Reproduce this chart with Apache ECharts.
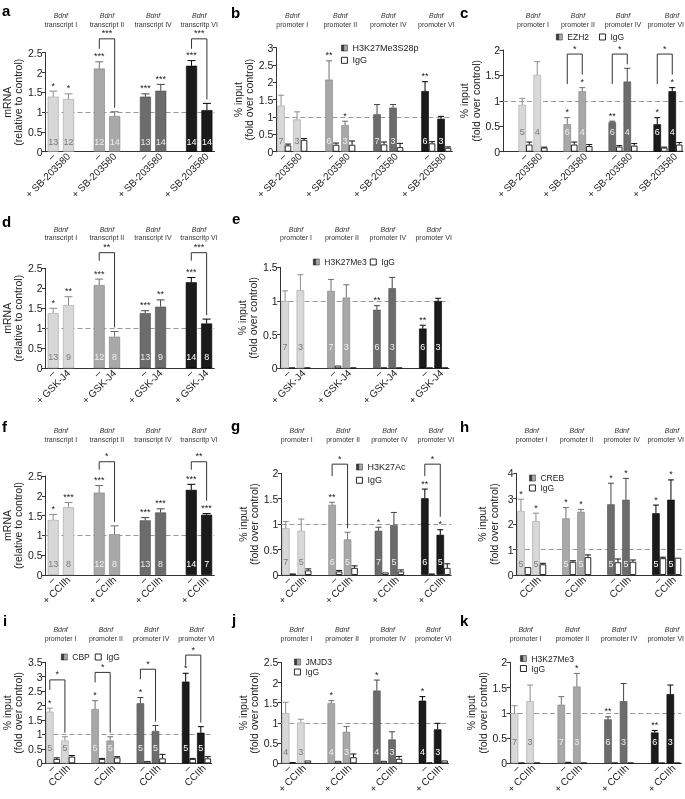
<!DOCTYPE html>
<html><head><meta charset="utf-8">
<script src="https://cdn.jsdelivr.net/npm/echarts@6/dist/echarts.min.js"></script>
<style>html,body{margin:0;padding:0;background:#fff}#c{width:685px;height:799px;will-change:transform}</style>
</head><body><div id="c"></div>
<script>
const FONT = '"Liberation Sans", Arial, Helvetica, sans-serif';

// ---------------- DATA ----------------
const geneLabel = 'Bdnf';
const transcriptGroups = ['transcript I', 'transcript II', 'transcript IV', 'transcritp VI'];
const promoterGroups = ['promoter I', 'promoter II', 'promoter IV', 'promoter VI'];
const yNameMRNA = 'mRNA\n(relative to control)';
const yNameInput = '% input\n(fold over control)';

const sbLabels = ['–', '+ SB-203580'];
const gskLabels = ['–', '+ GSK-J4'];
const cciLabels = ['–', '+ CCIIh'];
const cciPlainLabels = ['–', 'CCIIh'];

// a
const aVal = [1.39, 1.33, 2.10, 0.90, 1.39, 1.54, 2.17, 1.05];
const aErr = [0.14, 0.13, 0.17, 0.11, 0.07, 0.16, 0.13, 0.17];
const aN = [13, 12, 12, 14, 13, 14, 14, 14];
const aStars = ['*', '*', '***', '', '***', '***', '***', ''];
const aBrackets = [[1, '***'], [3, '***']];
// b
const bVal = [1.33, 0.93, 2.08, 0.77, 1.08, 1.27, 1.75, 0.95];
const bErr = [0.30, 0.22, 0.54, 0.11, 0.28, 0.09, 0.27, 0.07];
const bIgg = [0.18, 0.34, 0.20, 0.20, 0.21, 0.13, 0.24, 0.11];
const bIggErr = [0.04, 0.04, 0.05, 0.11, 0.07, 0.11, 0.05, 0.03];
const bN = [7, 3, 6, 3, 7, 3, 6, 3];
const bStars = ['', '', '**', '*', '', '', '**', ''];
// c
const cVal = [0.92, 1.51, 0.54, 1.19, 0.58, 1.38, 0.54, 1.19];
const cErr = [0.13, 0.26, 0.13, 0.07, 0.02, 0.26, 0.13, 0.07];
const cIgg = [0.14, 0.08, 0.14, 0.11, 0.10, 0.12, 0.08, 0.14];
const cIggErr = [0.05, 0.01, 0.05, 0.03, 0.02, 0.04, 0.01, 0.04];
const cN = [5, 4, 6, 4, 6, 4, 6, 4];
const cStars = ['', '', '*', '*', '**', '', '*', '*'];
const cBrackets = [[1, '*'], [2, '*'], [3, '*']];
// d
const dVal = [1.38, 1.58, 2.08, 0.79, 1.38, 1.54, 2.15, 1.12];
const dErr = [0.12, 0.21, 0.15, 0.13, 0.06, 0.17, 0.12, 0.11];
const dN = [13, 9, 12, 8, 13, 9, 14, 8];
const dStars = ['*', '**', '***', '', '***', '**', '***', ''];
const dBrackets = [[1, '**'], [3, '***']];
// e
const eVal = [1.00, 1.16, 1.15, 1.05, 0.87, 1.19, 0.59, 1.00];
const eErr = [0.15, 0.23, 0.17, 0.19, 0.06, 0.16, 0.05, 0.04];
const eIgg = [0.01, 0.01, 0.04, 0.01, 0.01, 0.01, 0.01, 0.01];
const eIggErr = [0, 0, 0, 0, 0, 0, 0, 0];
const eN = [7, 3, 7, 3, 6, 3, 6, 3];
const eStars = ['', '', '', '', '**', '', '**', ''];
// f
const fVal = [1.39, 1.71, 2.08, 1.03, 1.38, 1.58, 2.15, 1.52];
const fErr = [0.14, 0.12, 0.18, 0.21, 0.07, 0.09, 0.14, 0.03];
const fN = [13, 8, 12, 8, 13, 8, 14, 7];
const fStars = ['*', '***', '***', '', '***', '***', '***', '***'];
const fBrackets = [[1, '*'], [3, '**']];
// g
const gVal = [0.92, 0.87, 1.38, 0.70, 0.87, 0.98, 1.51, 0.79];
const gErr = [0.13, 0.23, 0.05, 0.14, 0.07, 0.25, 0.18, 0.10];
const gIgg = [0.03, 0.09, 0.07, 0.14, 0.05, 0.07, 0.03, 0.14];
const gIggErr = [0, 0.03, 0.02, 0.04, 0, 0.03, 0, 0.08];
const gN = [7, 5, 6, 5, 7, 5, 6, 5];
const gStars = ['', '', '**', '', '*', '', '**', '*'];
const gBrackets = [[1, '*'], [3, '*']];
// h
const hVal = [2.52, 2.12, 2.23, 2.49, 2.78, 2.96, 2.43, 2.96];
const hErr = [0.46, 0.31, 0.42, 0.09, 0.83, 0.84, 0.32, 0.78];
const hIgg = [0.31, 0.42, 0.52, 0.70, 0.50, 0.52, 0.66, 0.68];
const hIggErr = [0, 0.04, 0.04, 0.09, 0.13, 0.07, 0.04, 0];
const hN = [5, 5, 5, 5, 5, 5, 5, 5];
const hStars = ['*', '*', '*', '*', '*', '*', '*', '*'];
// i
const iVal = [1.79, 0.79, 1.88, 0.79, 2.08, 1.12, 2.83, 1.06];
const iErr = [0.12, 0.13, 0.29, 0.13, 0.20, 0.19, 0.29, 0.21];
const iIgg = [0.15, 0.23, 0.15, 0.20, 0.08, 0.17, 0.15, 0.17];
const iIggErr = [0.04, 0.04, 0.02, 0.03, 0, 0.14, 0.02, 0.06];
const iN = [5, 5, 5, 5, 5, 5, 5, 5];
const iStars = ['*', '', '*', '', '*', '', '*', ''];
const iBrackets = [[0, '*'], [1, '*'], [2, '*'], [3, '*']];
// j
const jVal = [1.24, 1.01, 1.49, 0.78, 1.80, 0.59, 1.55, 0.84];
const jErr = [0.27, 0.08, 0.06, 0.13, 0.26, 0.19, 0.10, 0.15];
const jIgg = [0.03, 0.07, 0.06, 0.15, 0.06, 0.11, 0.02, 0.07];
const jIggErr = [0, 0, 0, 0.08, 0, 0.06, 0, 0];
const jN = [4, 3, 4, 3, 4, 3, 4, 3];
const jStars = ['', '', '*', '', '*', '', '*', ''];
// k
const kVal = [0.99, 1.23, 1.16, 1.52, 0.87, 1.23, 0.61, 1.37];
const kErr = [0.15, 0.32, 0.16, 0.26, 0.05, 0.35, 0.04, 0.18];
const kIgg = [0.01, 0.01, 0.03, 0.01, 0.01, 0.01, 0.01, 0.01];
const kIggErr = [0, 0, 0, 0, 0, 0, 0, 0];
const kN = [7, 3, 7, 3, 6, 3, 6, 3];
const kStars = ['', '', '', '*', '**', '', '**', ''];

const panels = [
  {id: 'a', groups: transcriptGroups, xl: sbLabels, vals: aVal, errs: aErr, n: aN, stars: aStars, brackets: aBrackets, yName: yNameMRNA},
  {id: 'b', groups: promoterGroups, xl: sbLabels, vals: bVal, errs: bErr, igg: bIgg, iggErr: bIggErr, n: bN, stars: bStars, brackets: [], yName: yNameInput, mark: 'H3K27Me3S28p'},
  {id: 'c', groups: promoterGroups, xl: sbLabels, vals: cVal, errs: cErr, igg: cIgg, iggErr: cIggErr, n: cN, stars: cStars, brackets: cBrackets, yName: yNameInput, mark: 'EZH2'},
  {id: 'd', groups: transcriptGroups, xl: gskLabels, vals: dVal, errs: dErr, n: dN, stars: dStars, brackets: dBrackets, yName: yNameMRNA},
  {id: 'e', groups: promoterGroups, xl: gskLabels, vals: eVal, errs: eErr, igg: eIgg, iggErr: eIggErr, n: eN, stars: eStars, brackets: [], yName: yNameInput, mark: 'H3K27Me3'},
  {id: 'f', groups: transcriptGroups, xl: cciLabels, vals: fVal, errs: fErr, n: fN, stars: fStars, brackets: fBrackets, yName: yNameMRNA},
  {id: 'g', groups: promoterGroups, xl: cciLabels, vals: gVal, errs: gErr, igg: gIgg, iggErr: gIggErr, n: gN, stars: gStars, brackets: gBrackets, yName: yNameInput, mark: 'H3K27Ac'},
  {id: 'h', groups: promoterGroups, xl: cciPlainLabels, vals: hVal, errs: hErr, igg: hIgg, iggErr: hIggErr, n: hN, stars: hStars, brackets: [], yName: yNameInput, mark: 'CREB'},
  {id: 'i', groups: promoterGroups, xl: cciPlainLabels, vals: iVal, errs: iErr, igg: iIgg, iggErr: iIggErr, n: iN, stars: iStars, brackets: iBrackets, yName: yNameInput, mark: 'CBP'},
  {id: 'j', groups: promoterGroups, xl: cciLabels, vals: jVal, errs: jErr, igg: jIgg, iggErr: jIggErr, n: jN, stars: jStars, brackets: [], yName: yNameInput, mark: 'JMJD3'},
  {id: 'k', groups: promoterGroups, xl: cciLabels, vals: kVal, errs: kErr, igg: kIgg, iggErr: kIggErr, n: kN, stars: kStars, brackets: [], yName: yNameInput, mark: 'H3K27Me3'}
];

// ---------------- LAYOUT / STYLE ----------------
const layout = {
  a: {left: 43, top: 52.7, h: 99, slot: 15.6, lead: 0, max: 2.5, step: 0.5, gap: 17, nLift: 5.5, br: {add: 1, cap: 2.85, leg: 10}, lab: [15, 24], letter: [2, 10]},
  b: {left: 276.3, top: 47.7, h: 104, slot: 16, lead: 0, max: 3, step: 0.5, gap: 20.5, nLift: 6.5, lab: [15, 24], letter: [231, 12],
      legend: {orient: 'vertical', left: 341, top: 43, itemGap: 2.3, fs: 9}},
  c: {left: 503, top: 50, h: 101.7, slot: 15, lead: 1, max: 2, step: 0.5, gap: 11, nLift: 15.5, br: {add: 1, cap: 1.92, leg: 30}, lab: [15, 24], letter: [460, 12],
      legend: {orient: 'horizontal', left: 556, top: 32, itemGap: 10, fs: 8.5}},
  d: {left: 42.7, top: 268.3, h: 100, slot: 15.6, lead: 0, max: 2.5, step: 0.5, gap: 17, nLift: 7, br: {add: 1, cap: 2.89, leg: 8}, lab: [229, 237.7], letter: [2, 221]},
  e: {left: 280.7, top: 267.3, h: 101, slot: 15.3, lead: 0, max: 1.5, step: 0.5, gap: 19, nLift: 17, lab: [229, 237.7], letter: [232, 218],
      legend: {orient: 'horizontal', left: 313, top: 257, itemGap: 3, fs: 8.5}},
  f: {left: 42.7, top: 476, h: 99, slot: 15.6, lead: 0, max: 2.5, step: 0.5, gap: 17, nLift: 7, br: {add: 1, cap: 2.86, leg: 8}, lab: [430, 439], letter: [2, 426]},
  g: {left: 281.3, top: 473.3, h: 101.7, slot: 15.45, lead: 0, max: 2, step: 0.5, gap: 19.5, nLift: 8.5, br: {add: 1, cap: 2.18, leg: 12}, lab: [430, 439], letter: [231, 425],
      legend: {orient: 'vertical', left: 356, top: 462, itemGap: 3.3, fs: 9}},
  h: {left: 516.7, top: 473.3, h: 101.7, slot: 15, lead: 0, max: 4, step: 1, gap: 17, nLift: 7, lab: [430, 439], letter: [460, 426],
      legend: {orient: 'vertical', left: 529, top: 473, itemGap: 0, fs: 8.5}},
  i: {left: 43.3, top: 662.3, h: 101, slot: 15.3, lead: 0, max: 3.5, step: 0.5, gap: 15, nLift: 10.5, br: {add: 0.98, cap: 3.75, leg: 10}, lab: [629, 638.3], letter: [3, 620],
      legend: {orient: 'horizontal', left: 61, top: 652, itemGap: 5, fs: 8.5}},
  j: {left: 281.3, top: 662.3, h: 101, slot: 15.2, lead: 0, max: 2.5, step: 0.5, gap: 21, nLift: 7, lab: [629, 638.3], letter: [232, 619],
      legend: {orient: 'vertical', left: 294, top: 657, itemGap: 0, fs: 8.5}},
  k: {left: 510, top: 662.3, h: 101, slot: 15.58, lead: 0, max: 2, step: 0.5, gap: 19.5, nLift: 17, lab: [629, 638.3], letter: [460, 620],
      legend: {orient: 'vertical', left: 520, top: 653.5, itemGap: 0, fs: 8.5}}
};

const fillColors = ['#d8d8d8', '#a8a8a8', '#6c6c6c', '#1b1b1b'];
const edgeColors = ['#a3a3a3', '#7f7f7f', '#4d4d4d', '#000000'];
const errColors = ['#8c8c8c', '#6f6f6f', '#444444', '#000000'];
const nColors = ['#7a7a7a', '#eeeeee', '#eeeeee', '#ffffff'];
const W_SINGLE = 11, W_C = 7.5, W_I = 6.5;
const AX = '#333';
const CHART_W = 685;

const option = {
  animation: false,
  textStyle: {fontFamily: FONT},
  grid: [], xAxis: [], yAxis: [], series: [], legend: []
};

const catMaps = [];

panels.forEach((p, pi) => {
  const L = layout[p.id];
  const hasIgg = !!p.igg;
  const cats = [];
  if (L.lead) cats.push('');
  for (let g = 0; g < 4; g++) { cats.push(p.xl[0], p.xl[1]); if (g < 3) cats.push(''); }
  const catOf = i => L.lead + Math.floor(i / 2) * 3 + (i % 2);
  catMaps.push(catOf);

  option.grid.push({left: L.left, top: L.top, width: L.slot * cats.length, height: L.h});
  option.xAxis.push({
    type: 'category', gridIndex: pi, data: cats, boundaryGap: true,
    axisLine: {lineStyle: {color: AX, width: 1}},
    axisTick: {alignWithLabel: true, length: 3, interval: (idx, val) => val !== '', lineStyle: {color: AX}},
    axisLabel: {interval: 0, rotate: 45, fontSize: 10, color: '#222', margin: 3, fontFamily: FONT},
    splitLine: {show: false}
  });
  option.yAxis.push({
    type: 'value', gridIndex: pi, min: 0, max: L.max, interval: L.step,
    name: p.yName, nameLocation: 'middle', nameGap: L.gap, nameRotate: 90,
    nameTextStyle: {fontSize: 10.5, lineHeight: 11.5, color: '#222', fontFamily: FONT},
    axisLine: {show: true, lineStyle: {color: AX, width: 1}},
    axisTick: {show: true, length: 3.5, lineStyle: {color: AX}},
    axisLabel: {fontSize: 10.5, color: '#222', margin: 3, fontFamily: FONT},
    splitLine: {show: false}
  });

  // colored bars
  const cData = cats.map(() => '-');
  p.vals.forEach((v, i) => {
    const g = Math.floor(i / 2);
    cData[catOf(i)] = {value: v, itemStyle: {color: fillColors[g], borderColor: edgeColors[g]},
      label: {formatter: String(p.n[i]), color: nColors[g]}};
  });
  option.series.push({
    type: 'bar', name: p.mark || ('mRNA ' + p.id), xAxisIndex: pi, yAxisIndex: pi, data: cData,
    barWidth: hasIgg ? W_C : W_SINGLE, barGap: '0%',
    itemStyle: {borderWidth: 0.6},
    label: {show: true, position: 'insideBottom', distance: L.nLift, fontSize: 9, fontFamily: FONT},
    markLine: {silent: true, z: 1, symbol: ['none', 'none'], label: {show: false},
      lineStyle: {type: [5, 3], color: '#9a9a9a', width: 1.2}, data: [{yAxis: 1}]}
  });
  if (hasIgg) {
    const iData = cats.map(() => '-');
    p.igg.forEach((v, i) => { iData[catOf(i)] = v; });
    option.series.push({
      type: 'bar', name: 'IgG', xAxisIndex: pi, yAxisIndex: pi, data: iData,
      barWidth: W_I, barGap: '0%',
      itemStyle: {color: '#ffffff', borderColor: '#111', borderWidth: 0.9}
    });
  }

  // error bars + stars
  const eData = [];
  p.vals.forEach((v, i) => eData.push([catOf(i), v, p.errs[i], 0, i]));
  if (hasIgg) p.igg.forEach((v, i) => eData.push([catOf(i), v, p.iggErr[i], 1, i]));
  option.series.push({
    type: 'custom', xAxisIndex: pi, yAxisIndex: pi, data: eData, clip: false, silent: true, z: 5,
    renderItem: (params, api) => {
      const c = api.value(0), v = api.value(1), e = api.value(2), kind = api.value(3), i = api.value(4);
      const g = Math.floor(i / 2);
      const base = api.coord([c, v]);
      const top = api.coord([c, v + e]);
      let x = base[0];
      if (hasIgg) x += (kind === 0 ? -W_I / 2 : W_C / 2);
      const col = kind === 0 ? errColors[g] : '#111';
      const cap = hasIgg ? 3 : 4;
      const ch = [];
      if (e > 0) {
        ch.push({type: 'line', shape: {x1: x, y1: base[1], x2: x, y2: top[1]}, style: {stroke: col, lineWidth: 1}});
        ch.push({type: 'line', shape: {x1: x - cap, y1: top[1], x2: x + cap, y2: top[1]}, style: {stroke: col, lineWidth: 1}});
      }
      if (kind === 0 && p.stars[i]) {
        ch.push({type: 'text', style: {text: p.stars[i], x: x, y: top[1] - 1, fill: '#222', fontSize: 9, fontFamily: FONT,
          align: 'center', verticalAlign: 'bottom', textAlign: 'center', textVerticalAlign: 'bottom'}});
      }
      return {type: 'group', children: ch};
    }
  });

  // significance brackets
  if (p.brackets.length) {
    const bData = p.brackets.map((b, bi) => {
      const i1 = b[0] * 2, i2 = b[0] * 2 + 1;
      return [catOf(i1), catOf(i2), p.vals[i1] + p.errs[i1], p.vals[i2] + p.errs[i2], bi];
    });
    option.series.push({
      type: 'custom', xAxisIndex: pi, yAxisIndex: pi, data: bData, clip: false, silent: true, z: 6,
      renderItem: (params, api) => {
        const c1 = api.value(0), c2 = api.value(1), t1 = api.value(2), t2 = api.value(3), bi = api.value(4);
        const b = p.brackets[bi];
        const i2 = b[0] * 2 + 1;
        const H = Math.min(Math.max(t1, t2) + L.br.add, L.br.cap);
        const off = hasIgg ? -W_I / 2 : 0;
        const pH1 = api.coord([c1, H]);
        const pH2 = api.coord([c2, H]);
        const x1 = pH1[0] + off, x2 = pH2[0] + off, yH = pH1[1];
        const y1 = yH + L.br.leg;
        const y2 = api.coord([c2, t2])[1] - (p.stars[i2] ? 13 : 4);
        return {type: 'group', children: [
          {type: 'polyline', shape: {points: [[x1, y1], [x1, yH], [x2, yH], [x2, y2]]}, style: {stroke: '#333', lineWidth: 1, fill: null}},
          {type: 'text', style: {text: b[1], x: (x1 + x2) / 2, y: yH - 1, fill: '#222', fontSize: 9, fontFamily: FONT,
            align: 'center', verticalAlign: 'bottom', textAlign: 'center', textVerticalAlign: 'bottom'}}
        ]};
      }
    });
  }

  // legend
  if (L.legend) {
    option.legend.push({
      orient: L.legend.orient, left: L.legend.left, top: L.legend.top, itemGap: L.legend.itemGap,
      itemWidth: 6, itemHeight: 6, icon: 'rect', selectedMode: false, padding: 0,
      textStyle: {fontSize: L.legend.fs, color: '#222', lineHeight: 10, fontFamily: FONT},
      data: [
        {name: p.mark, itemStyle: {color: new echarts.graphic.LinearGradient(0, 0, 1, 0, [
          {offset: 0, color: '#2e2e2e'}, {offset: 0.45, color: '#4a4a4a'}, {offset: 0.46, color: '#9a9a9a'}, {offset: 1, color: '#bdbdbd'}]),
          borderColor: '#333', borderWidth: 0.6}},
        {name: 'IgG', itemStyle: {color: '#ffffff', borderColor: '#111', borderWidth: 0.9}}
      ]
    });
  }
});

const chart = echarts.init(document.getElementById('c'), null, {renderer: 'svg', width: 685, height: 799});
chart.setOption(option);

// group labels and panel letters (positions from the axes)
const LAB_FS = 7;
const gfx = [];
panels.forEach((p, pi) => {
  const L = layout[p.id];
  const catOf = catMaps[pi];
  for (let g = 0; g < 4; g++) {
    const xa = chart.convertToPixel({xAxisIndex: pi}, catOf(2 * g));
    const xb = chart.convertToPixel({xAxisIndex: pi}, catOf(2 * g + 1));
    let xc = (xa + xb) / 2;
    let align = 'center';
    const halfW = p.groups[g].length * LAB_FS * 0.26;
    if (xc + halfW > CHART_W - 1) { xc = CHART_W - 1; align = 'right'; }
    const xg = align === 'right' ? xc - halfW + 8 : xc;
    gfx.push({type: 'text', x: align === 'right' ? xg : xc, y: L.lab[0], silent: true, style: {text: geneLabel, fill: '#333',
      font: 'italic ' + LAB_FS + 'px ' + FONT, textAlign: 'center', textVerticalAlign: 'middle', align: 'center', verticalAlign: 'middle'}});
    gfx.push({type: 'text', x: xc, y: L.lab[1], silent: true, style: {text: p.groups[g], fill: '#333',
      font: LAB_FS + 'px ' + FONT, textAlign: align, textVerticalAlign: 'middle', align: align, verticalAlign: 'middle'}});
  }
  gfx.push({type: 'text', x: L.letter[0], y: L.letter[1], silent: true, style: {text: p.id, fill: '#000',
    font: 'bold 15px ' + FONT, textAlign: 'left', textVerticalAlign: 'middle', align: 'left', verticalAlign: 'middle'}});
});
chart.setOption({graphic: gfx});
</script></body></html>
